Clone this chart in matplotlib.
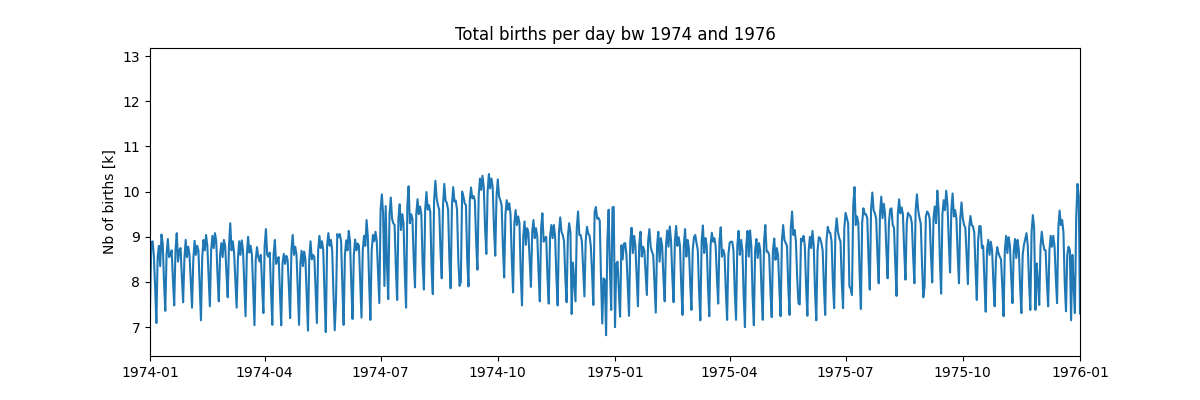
import pandas as pd
import matplotlib
matplotlib.use("Agg")
import matplotlib.pyplot as plt
import matplotlib.dates as mdates

# daily births in thousands, 1974-01-01 (a Tuesday) to 1976-01-01
# one row per week, Mon..Sun (first row starts on Tue, last row ends on Thu)
births_1974 = [
    [7.4, 8.85, 8.9, 8.6, 7.9, 7.09],
    [8.55, 8.8, 8.35, 9.05, 8.85, 8.0, 7.36],
    [8.6, 8.95, 8.55, 8.6, 8.7, 8.05, 7.48],
    [8.7, 9.08, 8.45, 8.7, 8.75, 8.1, 7.55],
    [8.5, 8.93, 8.55, 8.78, 8.6, 8.0, 7.43],
    [8.5, 8.91, 8.6, 8.8, 8.7, 7.9, 7.15],
    [8.55, 8.93, 8.7, 9.04, 8.8, 8.1, 7.46],
    [8.7, 9.02, 8.75, 9.08, 8.9, 8.15, 7.57],
    [8.6, 8.86, 8.55, 8.93, 8.8, 8.2, 7.66],
    [8.8, 9.3, 8.7, 8.9, 8.65, 8.05, 7.43],
    [8.5, 8.9, 8.6, 8.92, 8.7, 7.95, 7.24],
    [8.6, 9.0, 8.65, 8.8, 8.6, 7.8, 7.04],
    [8.5, 8.77, 8.55, 8.45, 8.6, 7.9, 7.31],
    [8.8, 9.17, 8.6, 8.56, 8.65, 7.8, 7.05],
    [8.6, 8.93, 8.4, 8.5, 8.55, 7.75, 7.04],
    [8.4, 8.62, 8.4, 8.58, 8.5, 7.9, 7.2],
    [8.7, 9.04, 8.6, 8.78, 8.6, 7.8, 7.05],
    [8.4, 8.69, 8.35, 8.67, 8.5, 7.7, 6.92],
    [8.5, 8.9, 8.5, 8.6, 8.55, 7.85, 7.09],
    [8.7, 9.02, 8.75, 8.9, 8.7, 7.7, 6.89],
    [8.8, 9.08, 8.8, 8.93, 8.7, 7.75, 6.93],
    [7.6, 9.06, 9.0, 9.06, 8.9, 7.9, 7.05],
    [8.6, 8.92, 8.7, 9.13, 8.9, 7.95, 7.18],
    [8.6, 8.94, 8.7, 8.85, 8.8, 8.0, 7.21],
    [8.7, 9.02, 8.8, 9.37, 9.0, 8.0, 7.16],
    [8.7, 9.04, 8.9, 9.11, 8.9, 8.2, 7.53],
    [9.6, 9.94, 9.5, 7.91, 9.68, 8.4, 7.62],
    [9.5, 9.87, 9.4, 9.3, 9.26, 8.3, 7.6],
    [9.4, 9.72, 9.15, 9.5, 9.3, 8.2, 7.43],
    [9.7, 10.12, 9.3, 9.5, 9.4, 8.5, 7.88],
    [9.5, 9.83, 9.5, 9.67, 9.5, 8.4, 7.83],
    [9.6, 9.99, 9.6, 9.7, 9.55, 8.3, 7.73],
    [9.8, 10.24, 9.85, 9.7, 9.6, 8.7, 8.08],
    [9.7, 10.17, 9.8, 9.75, 9.6, 8.5, 7.86],
    [9.7, 10.1, 9.78, 9.8, 9.6, 8.5, 7.91],
    [8.0, 10.0, 9.9, 9.74, 9.7, 8.5, 7.9],
    [9.8, 10.09, 9.85, 9.9, 9.8, 8.9, 8.27],
    [9.9, 10.29, 10.04, 10.35, 10.1, 9.2, 8.62],
    [10.0, 10.39, 10.07, 10.29, 10.1, 9.2, 8.58],
    [9.9, 10.27, 9.89, 9.81, 9.7, 8.8, 8.1],
    [9.5, 9.81, 9.6, 9.74, 9.5, 8.5, 7.77],
    [9.3, 9.59, 9.26, 9.45, 9.3, 8.2, 7.48],
    [9.0, 9.34, 8.82, 9.19, 9.1, 8.5, 7.89],
    [9.1, 9.37, 8.97, 9.19, 9.0, 8.2, 7.57],
    [9.2, 9.52, 8.89, 8.97, 9.0, 8.1, 7.52],
    [9.0, 9.26, 8.97, 9.26, 9.0, 8.1, 7.48],
    [9.1, 9.43, 9.11, 9.04, 8.9, 8.1, 7.55],
    [9.0, 9.3, 9.1, 7.29, 8.43, 8.0, 7.57],
    [9.2, 9.56, 9.04, 9.04, 8.9, 8.3, 7.68],
    [8.9, 9.22, 9.07, 9.03, 8.8, 8.2, 7.49],
    [9.55, 9.66, 9.4, 9.42, 9.36, 8.12, 7.08],
    [8.08, 8.04, 6.82, 8.9, 9.6, 8.3, 7.38],
]

births_1975 = [
    [9.65, 9.66, 7.0, 8.4, 8.45, 7.8, 7.23],
    [8.81, 8.5, 8.85, 8.86, 8.6, 7.9, 7.25],
    [8.9, 9.2, 8.64, 9.02, 8.8, 8.1, 7.46],
    [8.8, 9.11, 8.56, 8.78, 8.7, 8.2, 7.71],
    [8.9, 9.17, 8.78, 8.67, 8.6, 7.95, 7.32],
    [8.8, 9.11, 8.45, 8.97, 8.8, 8.1, 7.57],
    [8.8, 9.14, 8.78, 9.23, 8.9, 8.1, 7.55],
    [8.9, 9.24, 8.8, 8.99, 8.8, 7.9, 7.27],
    [8.8, 9.17, 8.56, 8.93, 8.75, 8.0, 7.38],
    [8.7, 8.99, 9.04, 8.86, 8.7, 7.8, 7.15],
    [8.9, 9.25, 8.64, 8.97, 8.8, 7.9, 7.24],
    [8.8, 9.09, 8.89, 8.97, 8.8, 8.1, 7.52],
    [8.9, 9.21, 8.56, 8.71, 8.6, 7.8, 7.16],
    [8.6, 8.87, 8.89, 8.89, 8.7, 7.8, 7.16],
    [8.8, 9.13, 8.6, 8.93, 8.7, 7.7, 7.0],
    [8.8, 9.13, 8.56, 9.14, 8.8, 7.7, 7.04],
    [8.7, 8.95, 8.53, 8.86, 8.7, 7.8, 7.16],
    [8.9, 9.26, 8.67, 8.67, 8.6, 7.8, 7.22],
    [8.7, 8.96, 8.49, 8.75, 8.6, 7.85, 7.24],
    [8.9, 9.26, 8.93, 8.86, 8.8, 7.9, 7.27],
    [9.2, 9.56, 9.04, 9.15, 8.9, 8.1, 7.53],
    [7.5, 8.96, 8.9, 9.02, 8.8, 7.9, 7.25],
    [8.7, 9.0, 8.75, 9.13, 8.8, 7.8, 7.15],
    [8.7, 8.99, 8.97, 8.86, 8.7, 7.9, 7.27],
    [8.9, 9.22, 9.11, 9.08, 8.9, 8.0, 7.42],
    [9.1, 9.41, 9.11, 8.97, 8.9, 8.0, 7.42],
    [9.2, 9.53, 9.41, 9.3, 7.9, 7.85, 7.71],
    [9.7, 10.1, 9.26, 9.45, 9.3, 8.2, 7.4],
    [9.3, 9.63, 9.5, 9.5, 9.41, 8.5, 7.83],
    [9.6, 9.98, 9.59, 9.52, 9.4, 8.6, 7.97],
    [9.5, 9.89, 9.41, 9.73, 9.5, 8.7, 8.08],
    [9.3, 9.61, 9.63, 9.26, 9.2, 8.4, 7.69],
    [9.5, 9.83, 9.52, 9.65, 9.5, 8.7, 8.05],
    [9.3, 9.53, 9.48, 9.45, 9.3, 8.6, 7.97],
    [9.6, 9.94, 9.59, 9.41, 9.3, 8.4, 7.66],
    [7.9, 9.45, 9.56, 9.52, 9.4, 8.6, 7.99],
    [9.4, 9.67, 9.3, 10.02, 9.6, 8.5, 7.74],
    [9.5, 9.81, 9.59, 10.02, 9.7, 8.9, 8.21],
    [9.6, 9.96, 9.45, 9.59, 9.4, 8.6, 7.97],
    [9.4, 9.76, 9.41, 9.26, 9.2, 8.6, 7.95],
    [9.2, 9.46, 9.26, 9.23, 9.1, 8.3, 7.6],
    [8.9, 9.24, 9.23, 8.75, 8.8, 8.0, 7.34],
    [8.7, 8.93, 8.6, 8.89, 8.7, 8.0, 7.46],
    [8.5, 8.77, 8.64, 8.56, 8.5, 7.9, 7.24],
    [8.7, 9.02, 8.64, 8.99, 8.8, 8.1, 7.53],
    [8.7, 8.95, 8.53, 8.93, 8.7, 7.9, 7.31],
    [8.6, 8.82, 8.95, 9.08, 8.8, 8.0, 7.38],
    [9.1, 9.48, 9.2, 7.38, 8.41, 8.0, 7.49],
    [8.8, 9.11, 8.86, 8.71, 8.7, 8.0, 7.46],
    [8.7, 9.02, 8.78, 9.02, 8.8, 8.1, 7.53],
    [9.2, 9.58, 9.26, 9.37, 9.1, 8.0, 7.35],
    [8.6, 8.78, 8.71, 7.15, 8.6, 7.9, 7.31],
    [9.4, 10.17, 9.9, 7.3],
]

values = [v for week in births_1974 + births_1975 for v in week]
dates = pd.date_range("1974-01-01", periods=len(values), freq="D")

fig, ax = plt.subplots(figsize=(12, 4), dpi=100)
ax.plot(dates, values)
ax.set_title("Total births per day bw 1974 and 1976")
ax.set_ylabel("Nb of births [k]")
ax.set_xlim(pd.Timestamp("1974-01-01"), pd.Timestamp("1976-01-01"))
ax.set_ylim(6.36, 13.18)
ax.xaxis.set_major_locator(mdates.MonthLocator(bymonth=[1, 4, 7, 10]))
ax.xaxis.set_major_formatter(mdates.DateFormatter("%Y-%m"))
plt.savefig("out.png", dpi=100)
